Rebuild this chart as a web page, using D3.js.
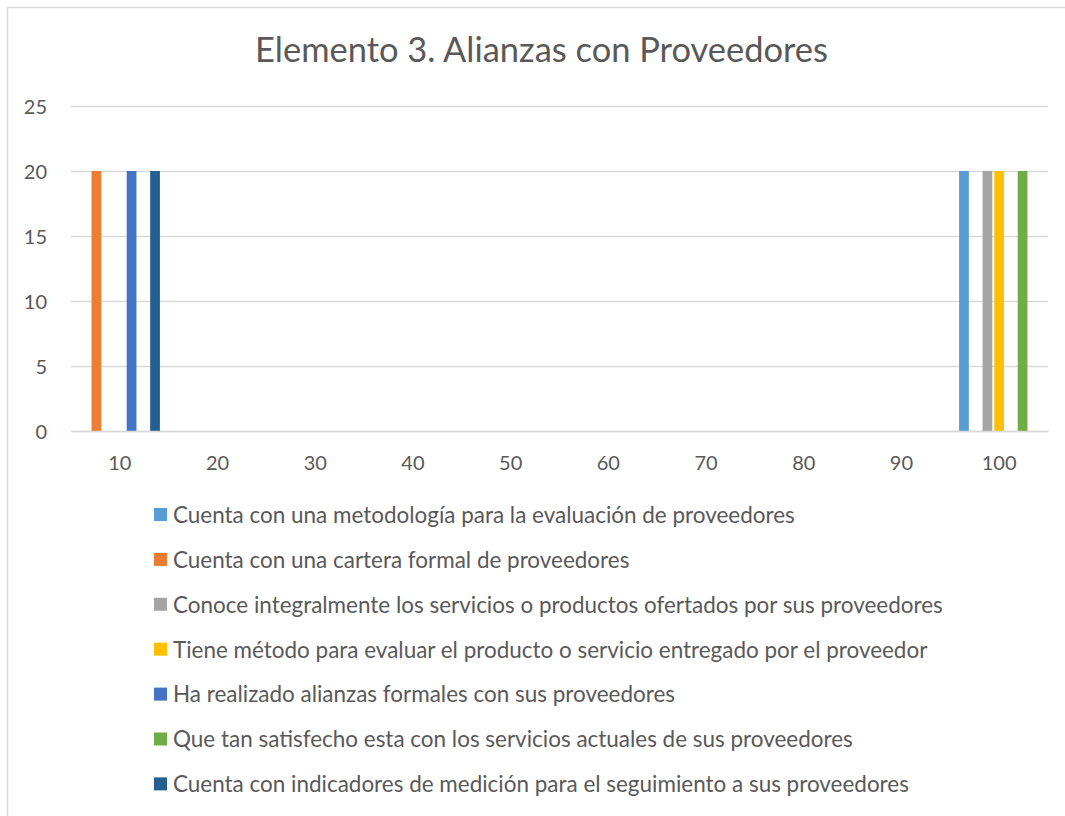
<!DOCTYPE html>
<html><head><meta charset="utf-8">
<script src="https://cdn.jsdelivr.net/npm/d3@7"></script>
<style>body{margin:0;background:#fff}svg{display:block}</style>
</head><body>
<svg id="c" width="1065" height="816"></svg>
<script>
const title = "Elemento 3. Alianzas con Proveedores";
const categories = [10, 20, 30, 40, 50, 60, 70, 80, 90, 100];
const yTicks = [0, 5, 10, 15, 20, 25];
const seriesNames = [
  "Cuenta con una metodología para la evaluación de proveedores",
  "Cuenta con una cartera formal de proveedores",
  "Conoce integralmente los servicios o productos ofertados por sus proveedores",
  "Tiene método para evaluar el producto o servicio entregado por el proveedor",
  "Ha realizado alianzas formales con sus proveedores",
  "Que tan satisfecho esta con los servicios actuales de sus proveedores",
  "Cuenta con indicadores de medición para el seguimiento a sus proveedores"
];
const seriesColors = ["#5B9BD5", "#ED7D31", "#A5A5A5", "#FFC000", "#4472C4", "#70AD47", "#255E91"];
const s1 = [0, 0, 0, 0, 0, 0, 0, 0, 0, 20];
const s2 = [20, 0, 0, 0, 0, 0, 0, 0, 0, 0];
const s3 = [0, 0, 0, 0, 0, 0, 0, 0, 0, 20];
const s4 = [0, 0, 0, 0, 0, 0, 0, 0, 0, 20];
const s5 = [20, 0, 0, 0, 0, 0, 0, 0, 0, 0];
const s6 = [0, 0, 0, 0, 0, 0, 0, 0, 0, 20];
const s7 = [20, 0, 0, 0, 0, 0, 0, 0, 0, 0];
const seriesValues = [s1, s2, s3, s4, s5, s6, s7];

(function () {
const FONT = "Lato, 'Open Sans', sans-serif";
const TXT = "#595959";
const GRID = "#d9d9d9";

const svg = d3.select("#c");
svg.append("rect").attr("x", 7.5).attr("y", 7.5).attr("width", 1100).attr("height", 900)
  .attr("fill", "#fff").attr("stroke", GRID).attr("stroke-width", 1.5);

const pL = 71, pR = 1048, pT = 106, pB = 431;
const x = d3.scaleBand().domain(categories).range([pL, pR]).paddingInner(0.18).paddingOuter(0.09);
const xs = d3.scaleBand().domain(d3.range(seriesNames.length)).range([0, x.bandwidth()]).paddingInner(0.17);
const y = d3.scaleLinear().domain([0, 25]).range([pB, pT]);

svg.append("g").selectAll("line").data(yTicks).join("line")
  .attr("x1", pL).attr("x2", pR)
  .attr("y1", d => y(d) + 0.5).attr("y2", d => y(d) + 0.5)
  .attr("stroke", GRID).attr("stroke-width", 1.3);

const yAxis = d3.axisLeft(y).tickValues(yTicks).tickSize(0).tickPadding(0);
const gy = svg.append("g").attr("transform", `translate(47,0)`).call(yAxis);
gy.select(".domain").remove();
gy.selectAll("text").attr("font-family", FONT).attr("font-size", 20).attr("fill", TXT).attr("dy", "0.35em");

seriesValues.forEach((vals, si) => {
  svg.append("g").selectAll("rect").data(vals.map((v, i) => ({ c: categories[i], v })).filter(d => d.v > 0)).join("rect")
    .attr("x", d => x(d.c) + xs(si))
    .attr("width", xs.bandwidth())
    .attr("y", d => y(d.v))
    .attr("height", d => y(0) - y(d.v))
    .attr("fill", seriesColors[si]);
});

const xAxis = d3.axisBottom(x).tickSize(0).tickPadding(0);
const gx = svg.append("g").attr("transform", `translate(0,${pB})`).call(xAxis);
gx.select(".domain").attr("stroke", GRID).attr("stroke-width", 1.5);
gx.selectAll("text").attr("font-family", FONT).attr("font-size", 20).attr("fill", TXT).attr("y", 32).attr("dy", "0.35em");

const t = svg.append("text").attr("x", 541.5).attr("y", 62).attr("text-anchor", "middle")
  .attr("font-family", FONT).attr("font-size", 30).attr("fill", TXT).text(title);
const tw = t.node().getComputedTextLength();
t.attr("font-size", 30 * 573 / tw);

const lg = svg.append("g");
const rows = lg.selectAll("g").data(seriesNames).join("g")
  .attr("transform", (d, i) => `translate(154,${515 + i * 44.9})`);
rows.append("rect").attr("x", 0).attr("y", -7).attr("width", 13).attr("height", 13)
  .attr("fill", (d, i) => seriesColors[i]);
const lt = rows.append("text").attr("x", 19).attr("y", 0).attr("dy", "0.35em")
  .attr("font-family", FONT).attr("font-size", 19).attr("fill", TXT).text(d => d);
const w0 = lt.nodes()[0].getComputedTextLength();
lt.attr("font-size", 19 * 622 / w0);
})();
</script>
</body></html>
